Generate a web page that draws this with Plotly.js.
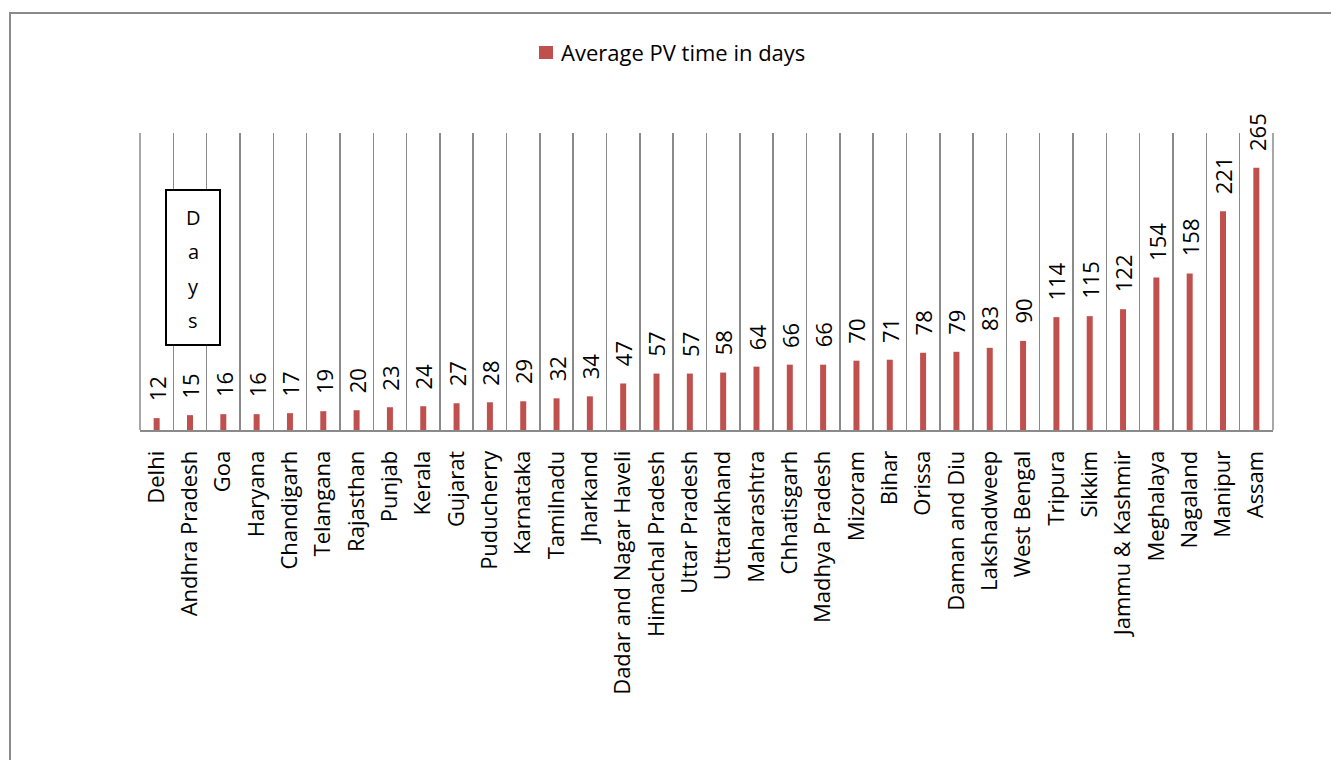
<!DOCTYPE html>
<html>
<head>
<meta charset="utf-8">
<script src="https://cdn.plot.ly/plotly-3.0.1.min.js"></script>
<style>html,body{margin:0;padding:0;background:#fff;}#chart{width:1331px;height:760px;}</style>
</head>
<body>
<div id="chart"></div>
<script>
const states = ["Delhi","Andhra Pradesh","Goa","Haryana","Chandigarh","Telangana","Rajasthan","Punjab","Kerala","Gujarat","Puducherry","Karnataka","Tamilnadu","Jharkand","Dadar and Nagar Haveli","Himachal Pradesh","Uttar Pradesh","Uttarakhand","Maharashtra","Chhatisgarh","Madhya Pradesh","Mizoram","Bihar","Orissa","Daman and Diu","Lakshadweep","West Bengal","Tripura","Sikkim","Jammu & Kashmir","Meghalaya","Nagaland","Manipur","Assam"];
const avgDays = [12,15,16,16,17,19,20,23,24,27,28,29,32,34,47,57,57,58,64,66,66,70,71,78,79,83,90,114,115,122,154,158,221,265];
const seriesName = "Average PV time in days";
const yAxisTitleLetters = ["D","a","y","s"];

const FONT = "Open Sans, Noto Sans, sans-serif";
const GRID = "#8a8a8a";
const BAR = "#C0504D";

const trace = {
  type: "bar",
  x: states,
  y: avgDays,
  name: seriesName,
  marker: {color: BAR},
  width: 0.18,
  hoverinfo: "x+y"
};

// pixel helpers for paper coordinates (plot area: x 140..1273, y 133..430)
const px = p => (p - 140) / 1133;
const py = p => (430 - p) / 297;

const annotations = avgDays.map((v, i) => ({
  x: states[i], y: v, xref: "x", yref: "y",
  text: String(v), showarrow: false, textangle: -90,
  xanchor: "center", yanchor: "bottom", yshift: 15,
  font: {family: FONT, size: 22, color: "#000"}
}));

const letterPix = [217, 251, 286, 320];
yAxisTitleLetters.forEach((ch, k) => {
  annotations.push({
    x: px(193), y: py(letterPix[k]), xref: "paper", yref: "paper",
    text: ch, showarrow: false, xanchor: "center", yanchor: "middle",
    font: {family: FONT, size: 20, color: "#000"}
  });
});

// legend text
annotations.push({
  x: px(559), y: py(52), xref: "paper", yref: "paper",
  text: seriesName, showarrow: false, xanchor: "left", yanchor: "middle",
  font: {family: FONT, size: 22, color: "#000"}
});

const layout = {
  width: 1331, height: 760,
  margin: {l: 140, r: 58, t: 133, b: 330},
  paper_bgcolor: "#fff", plot_bgcolor: "#fff",
  showlegend: false,
  xaxis: {
    type: "category",
    tickson: "boundaries",
    showgrid: true, gridcolor: GRID, gridwidth: 1.5,
    showline: true, linecolor: GRID, linewidth: 2,
    ticks: "", tickangle: -90,
    ticklabelstandoff: 10,
    tickfont: {family: FONT, size: 22, color: "#000"},
    range: [-0.5, states.length - 0.5],
    fixedrange: true
  },
  yaxis: {
    range: [0, 300], showgrid: false, zeroline: false, showline: false,
    showticklabels: false, ticks: "", fixedrange: true
  },
  annotations: annotations,
  shapes: [
    {type: "rect", xref: "paper", yref: "paper",
     x0: px(10), x1: px(1345), y0: py(780), y1: py(13),
     line: {color: GRID, width: 2}, fillcolor: "rgba(0,0,0,0)", layer: "below"},
    {type: "rect", xref: "paper", yref: "paper",
     x0: px(166), x1: px(220), y0: py(345), y1: py(190),
     line: {color: "#000", width: 2}, fillcolor: "#fff", layer: "above"},
    {type: "line", xref: "paper", yref: "paper", x0: 0, x1: 0, y0: 0, y1: 1,
     line: {color: GRID, width: 1.5}},
    {type: "line", xref: "paper", yref: "paper", x0: 1, x1: 1, y0: 0, y1: 1,
     line: {color: GRID, width: 1.5}},
    // legend swatch
    {type: "rect", xref: "paper", yref: "paper",
     x0: px(539), x1: px(553), y0: py(59), y1: py(46),
     line: {width: 0}, fillcolor: BAR}
  ]
};

Plotly.newPlot("chart", [trace], layout, {displayModeBar: false, staticPlot: true});
</script>
</body>
</html>
